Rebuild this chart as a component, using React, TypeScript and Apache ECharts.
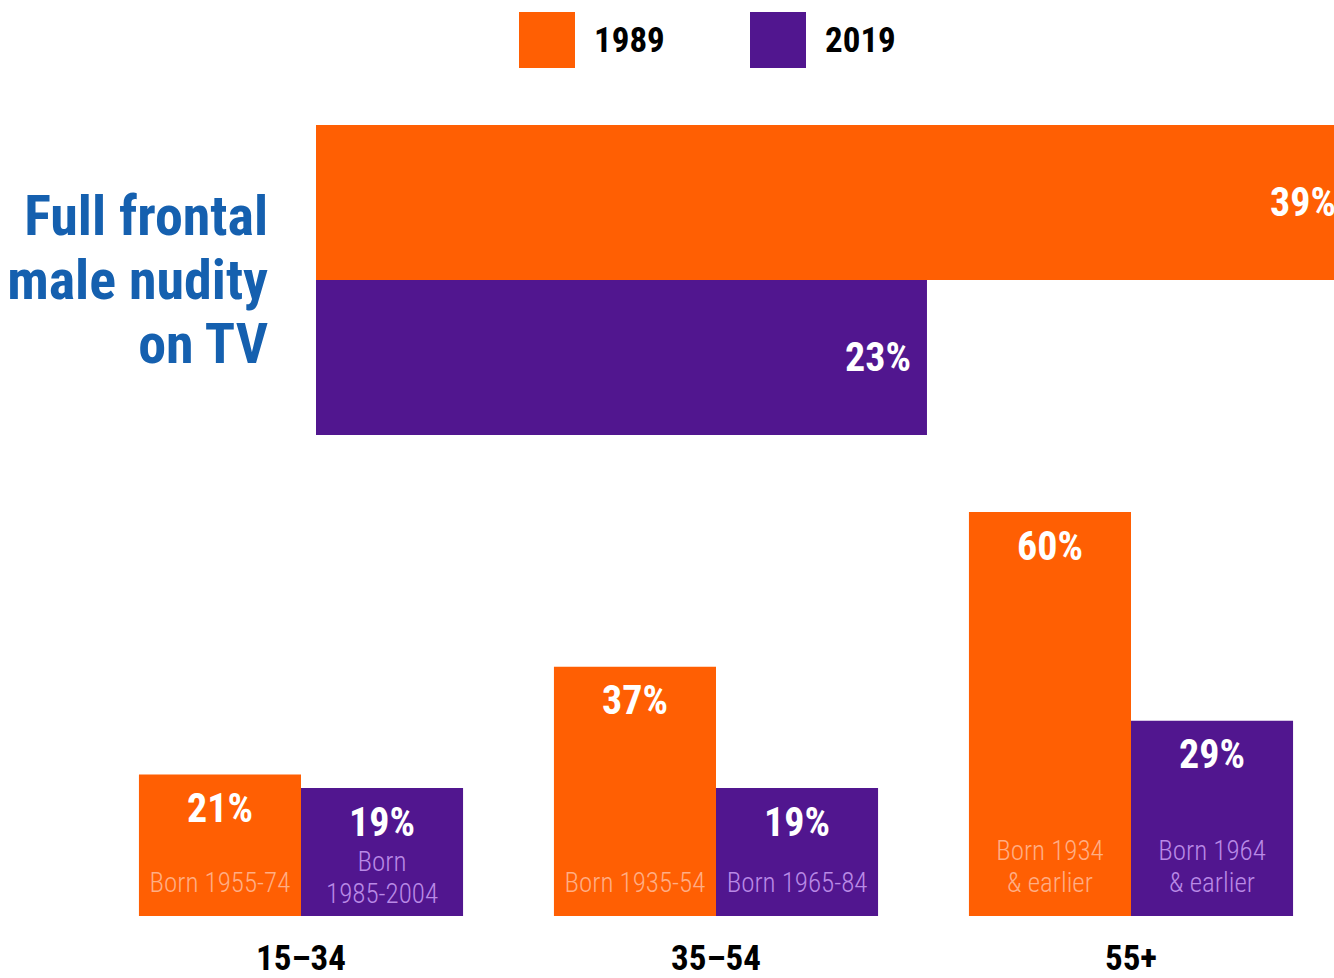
import React, { useEffect, useRef } from "react";
import * as echarts from "echarts";

const seriesNames = ["1989", "2019"];
const topCategory = ["Full frontal\nmale nudity\non TV"];
const top1989 = [39];
const top2019 = [23];
const ageCategories = ["15–34", "35–54", "55+"];
const values1989 = [21, 37, 60];
const values2019 = [19, 19, 29];
const born1989 = ["Born 1955-74", "Born 1935-54", "Born 1934\n& earlier"];
const born2019 = ["Born\n1985-2004", "Born 1965-84", "Born 1964\n& earlier"];

const ORANGE = "#FF5F03";
const PURPLE = "#51168F";
const BLUE = "#1560AF";
const ORANGE_TXT = "#FFAE85";
const PURPLE_TXT = "#B98AE6";
const FONT = "'Roboto Condensed', 'Liberation Sans Narrow', sans-serif";

export default function App() {
  const ref = useRef<HTMLDivElement>(null);
  useEffect(() => {
    if (!ref.current) return;
    const chart = echarts.init(ref.current, null, { renderer: "svg" });
    const pctLabel = {
      show: true,
      formatter: "{c}%",
      color: "#fff",
      fontFamily: FONT,
      fontWeight: "bold",
      fontSize: 40,
      lineHeight: 40,
    };
    const bornLabel = (texts: string[], color: string) => ({
      show: true,
      position: "insideBottom",
      distance: 17,
      formatter: (p: any) => texts[p.dataIndex],
      color,
      fontFamily: FONT,
      fontWeight: 300,
      fontSize: 27,
      lineHeight: 32,
    });
    // the two-line label under the short 15–34 / 2019 bar sits lower in its bar
    const born2019Data = values2019.map((v, i) =>
      born2019[i].startsWith("Born\n") ? { value: v, label: { distance: 6 } } : v
    );
    const legendBase = {
      icon: "rect",
      itemWidth: 56,
      itemHeight: 56,
      top: 12,
      padding: 0,
      selectedMode: false,
      textStyle: {
        fontFamily: FONT,
        fontWeight: "bold",
        fontSize: 35,
        color: "#000",
        padding: [0, 0, 0, 14],
      },
    };
    chart.setOption({
      animation: false,
      legend: [
        { ...legendBase, left: 519, data: [seriesNames[0]] },
        { ...legendBase, left: 750, data: [seriesNames[1]] },
      ],
      grid: [
        { left: 316, right: -18, top: 125, height: 310, outerBoundsMode: "none", containLabel: false },
        { left: 93.5, width: 1245, top: 512, height: 404, outerBoundsMode: "none", containLabel: false },
      ],
      xAxis: [
        { gridIndex: 0, type: "value", min: 0, max: 39, show: false },
        {
          gridIndex: 1,
          type: "category",
          data: ageCategories,
          axisLine: { show: false },
          axisTick: { show: false },
          axisLabel: {
            color: "#000",
            fontFamily: FONT,
            fontWeight: "bold",
            fontSize: 35,
            lineHeight: 30,
            margin: 27,
          },
        },
        { gridIndex: 1, type: "category", data: ageCategories, show: false },
      ],
      yAxis: [
        {
          gridIndex: 0,
          type: "category",
          data: topCategory,
          inverse: true,
          axisLine: { show: false },
          axisTick: { show: false },
          axisLabel: {
            color: BLUE,
            fontFamily: FONT,
            fontWeight: "bold",
            fontSize: 56,
            lineHeight: 64,
            align: "right",
            verticalAlign: "middle",
            padding: [10, 0, 0, 0],
            margin: 48,
          },
        },
        { gridIndex: 1, type: "value", min: 0, max: 60, show: false },
      ],
      series: [
        {
          name: seriesNames[0],
          type: "bar",
          xAxisIndex: 0,
          yAxisIndex: 0,
          data: top1989,
          barGap: 0,
          barCategoryGap: 0,
          itemStyle: { color: ORANGE },
          label: { ...pctLabel, position: "insideRight", distance: 16 },
        },
        {
          name: seriesNames[1],
          type: "bar",
          xAxisIndex: 0,
          yAxisIndex: 0,
          data: top2019,
          barGap: 0,
          barCategoryGap: 0,
          itemStyle: { color: PURPLE },
          label: { ...pctLabel, position: "insideRight", distance: 16 },
        },
        {
          name: seriesNames[0],
          type: "bar",
          xAxisIndex: 1,
          yAxisIndex: 1,
          data: values1989,
          barGap: 0,
          barCategoryGap: "21.9%",
          itemStyle: { color: ORANGE },
          label: { ...pctLabel, position: "insideTop", distance: 14 },
        },
        {
          name: seriesNames[1],
          type: "bar",
          xAxisIndex: 1,
          yAxisIndex: 1,
          data: values2019,
          barGap: 0,
          barCategoryGap: "21.9%",
          itemStyle: { color: PURPLE },
          label: { ...pctLabel, position: "insideTop", distance: 14 },
        },
        {
          name: "born1989",
          type: "bar",
          xAxisIndex: 2,
          yAxisIndex: 1,
          data: values1989,
          barGap: 0,
          barCategoryGap: "21.9%",
          itemStyle: { color: "transparent" },
          label: bornLabel(born1989, ORANGE_TXT),
          z: 5,
        },
        {
          name: "born2019",
          type: "bar",
          xAxisIndex: 2,
          yAxisIndex: 1,
          data: born2019Data,
          barGap: 0,
          barCategoryGap: "21.9%",
          itemStyle: { color: "transparent" },
          label: bornLabel(born2019, PURPLE_TXT),
          z: 5,
        },
      ],
    });
    return () => chart.dispose();
  }, []);
  return (
    <div
      style={{ position: "absolute", left: 0, top: 0, width: 1334, height: 978, overflow: "hidden", background: "#fff" }}
    >
      <div ref={ref} style={{ width: 1334, height: 978 }} />
    </div>
  );
}
